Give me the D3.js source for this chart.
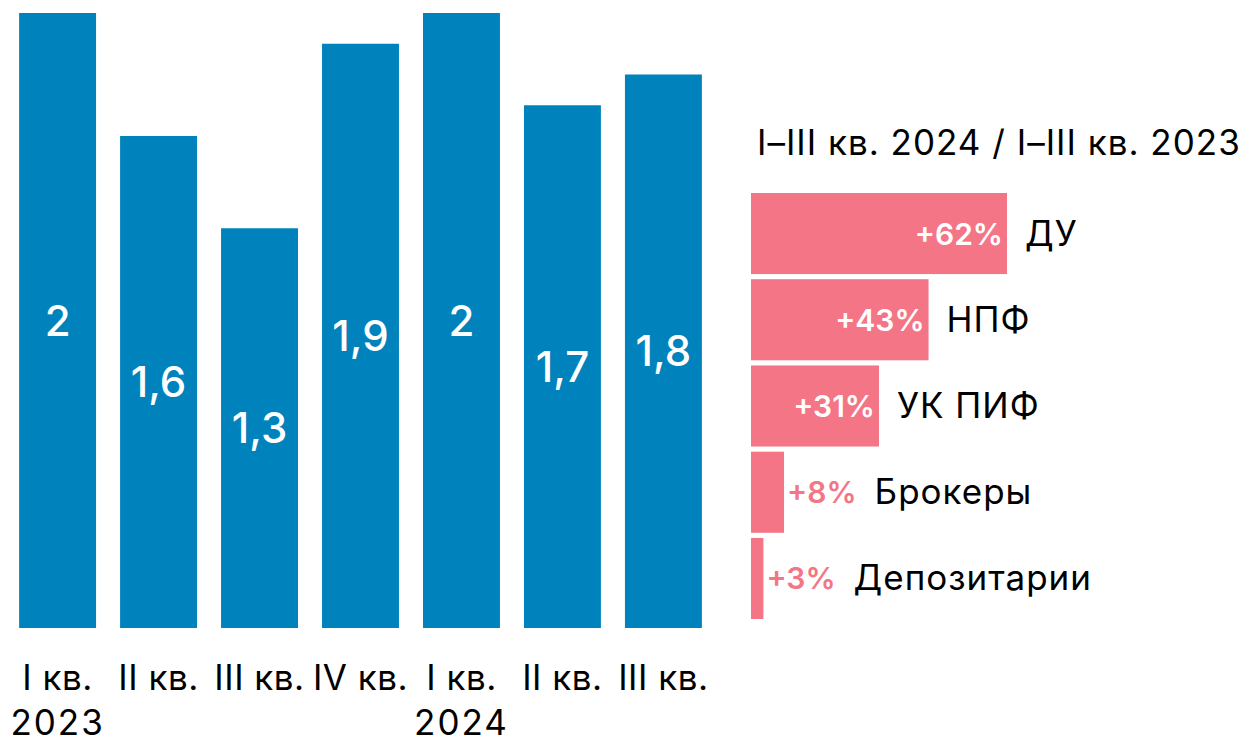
<!DOCTYPE html>
<html lang="ru">
<head>
<meta charset="UTF-8">
<title>Кварталы</title>
<script src="https://d3js.org/d3.v7.min.js"></script>
<style>
    body { margin: 0; background: #fff; font-family: Inter, 'Noto Sans', sans-serif; }
    svg text { font-family: Inter, 'Noto Sans', sans-serif; }
</style>
</head>
<body>
<svg id="chart" width="1246" height="742"></svg>
<script>
// квартальные значения
const quarters = ["I кв.", "II кв.", "III кв.", "IV кв.", "I кв.", "II кв.", "III кв."];
const years = ["2023", "", "", "", "2024", "", ""];
const values = [2, 1.6, 1.3, 1.9, 2, 1.7, 1.8];

// прирост по участникам
const groups = ["ДУ", "НПФ", "УК ПИФ", "Брокеры", "Депозитарии"];
const growth = [62, 43, 31, 8, 3];
const title = "I–III кв. 2024 / I–III кв. 2023";

const svg = d3.select("#chart");
const blue = "#0083bc", pink = "#f47585";

// левая часть - столбцы
const x = d3.scaleBand().domain(d3.range(values.length)).range([7, 714]).paddingInner(0.238).paddingOuter(0.12);
const y = d3.scaleLinear().domain([0, 2]).range([628, 13]);

const g = svg.append("g");
g.selectAll("rect").data(values).join("rect")
    .attr("x", (d, i) => x(i))
    .attr("y", d => y(d))
    .attr("width", x.bandwidth())
    .attr("height", d => y(0) - y(d))
    .attr("fill", blue);

g.selectAll("text.val").data(values).join("text")
    .attr("class", "val")
    .attr("x", (d, i) => x(i) + x.bandwidth() / 2)
    .attr("y", d => (y(d) + y(0)) / 2 + 15)
    .attr("text-anchor", "middle")
    .attr("fill", "#fff")
    .attr("font-size", 42)
    .attr("font-weight", 500)
    .text(d => String(d).replace(".", ","));

g.selectAll("text.q").data(quarters).join("text")
    .attr("class", "q")
    .attr("x", (d, i) => x(i) + x.bandwidth() / 2)
    .attr("y", 690)
    .attr("text-anchor", "middle")
    .attr("font-size", 35)
    .attr("letter-spacing", 0.5)
    .attr("fill", "#000")
    .text(d => d);

g.selectAll("text.yr").data(years).join("text")
    .attr("class", "yr")
    .attr("x", (d, i) => x(i) + x.bandwidth() / 2)
    .attr("y", 735)
    .attr("text-anchor", "middle")
    .attr("font-size", 35)
    .attr("letter-spacing", 2)
    .attr("fill", "#000")
    .text(d => d);

// правая часть - горизонтальные столбцы
const hx = d3.scaleLinear().domain([0, 62]).range([751, 1007]);
const hy = d3.scaleBand().domain(groups).range([193, 619]).paddingInner(0.06);

const h = svg.append("g");
h.append("text")
    .attr("x", 757).attr("y", 155)
    .attr("font-size", 35)
    .attr("letter-spacing", 1)
    .attr("fill", "#000")
    .text(title);

h.selectAll("rect").data(growth).join("rect")
    .attr("x", hx(0))
    .attr("y", (d, i) => hy(groups[i]))
    .attr("width", d => hx(d) - hx(0))
    .attr("height", hy.bandwidth())
    .attr("fill", pink);

growth.forEach((d, i) => {
    const cy = hy(groups[i]) + hy.bandwidth() / 2;
    const inside = d > 20;
    const pct = h.append("text")
        .attr("x", inside ? hx(d) - 4 : hx(d) + 3)
        .attr("y", cy + 11)
        .attr("text-anchor", inside ? "end" : "start")
        .attr("font-size", 30)
        .attr("font-weight", 600)
        .attr("fill", inside ? "#fff" : pink)
        .text("+" + d + "%");
    const end = inside ? hx(d) : hx(d) + 3 + pct.node().getComputedTextLength();
    h.append("text")
        .attr("x", end + 18)
        .attr("y", cy + 12)
        .attr("font-size", 35)
        .attr("letter-spacing", 1)
        .attr("fill", "#000")
        .text(groups[i]);
});
</script>
</body>
</html>
